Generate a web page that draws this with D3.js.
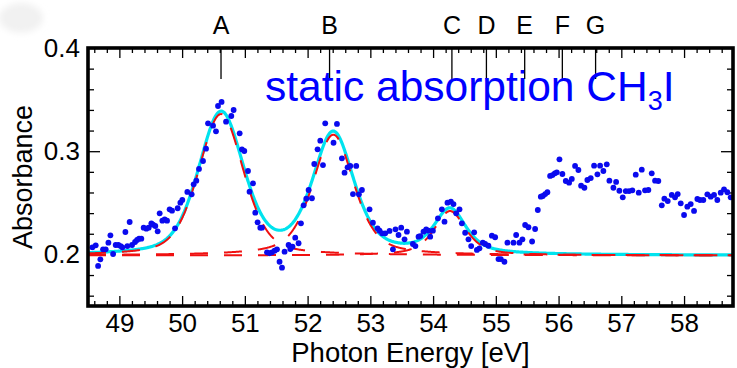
<!DOCTYPE html>
<html><head><meta charset="utf-8">
<script src="https://cdn.jsdelivr.net/npm/d3@7"></script>
<style>
html,body{margin:0;padding:0;background:#fff;}
svg{display:block;font-family:"Liberation Sans",Arial,Helvetica,sans-serif;}
</style></head><body>
<svg id="chart" width="737" height="368"></svg>
<script>
// Measured static absorption of CH3I (photon energy in eV, absorbance)
const energy = [
  48.570,48.623,48.661,48.697,48.740,48.782,48.825,48.857,48.900,48.941,48.984,49.021,49.048,49.096,49.127,49.164,
  49.202,49.250,49.282,49.314,49.350,49.387,49.430,49.467,49.510,49.537,49.573,49.610,49.642,49.685,49.722,49.760,
  49.801,49.839,49.887,49.929,49.972,50.003,50.083,50.152,50.184,50.227,50.269,50.333,50.381,50.413,50.493,50.540,
  50.572,50.629,50.700,50.784,50.821,50.917,50.954,50.991,51.050,51.075,51.130,51.166,51.203,51.246,51.273,51.353,
  51.394,51.432,51.474,51.512,51.553,51.592,51.633,51.697,51.724,51.760,51.803,51.856,51.894,51.936,51.979,52.016,
  52.069,52.106,52.159,52.202,52.245,52.281,52.413,52.468,52.547,52.589,52.637,52.680,52.723,52.775,52.818,52.866,
  52.987,53.041,53.115,53.147,53.189,53.237,53.306,53.360,53.401,53.449,53.492,53.545,53.583,53.678,53.718,53.768,
  53.795,53.847,53.890,53.927,53.954,53.997,54.077,54.140,54.182,54.229,54.284,54.325,54.368,54.421,54.459,54.511,
  54.564,54.607,54.655,54.698,54.739,54.793,54.830,54.882,54.937,54.989,55.042,55.080,55.137,55.185,55.281,55.324,
  55.376,55.424,55.467,55.520,55.578,55.626,55.669,55.717,55.749,55.786,55.822,55.865,55.902,55.940,55.972,56.014,
  56.061,56.115,56.168,56.211,56.263,56.316,56.359,56.412,56.459,56.513,56.566,56.619,56.662,56.714,56.768,56.810,
  56.874,56.917,56.969,57.023,57.071,57.124,57.176,57.230,57.278,57.326,57.378,57.431,57.485,57.538,57.590,57.645,
  57.686,57.740,57.804,57.856,57.899,57.947,58.000,58.052,58.106,58.159,58.212,58.254,58.307,58.371,58.425,58.478,
  58.530,58.584,58.637,58.690,58.743
];
const absorbance = [
  0.2069,0.2088,0.1888,0.1952,0.2049,0.2049,0.2114,0.2185,0.2004,0.2091,0.2091,0.2081,0.2069,0.2217,0.2081,0.2314,
  0.2091,0.2120,0.2140,0.2152,0.2152,0.2259,0.2249,0.2259,0.2301,0.2288,0.2275,0.2224,0.2398,0.2327,0.2340,0.2327,
  0.2437,0.2424,0.2253,0.2447,0.2501,0.2527,0.2605,0.2582,0.2679,0.2714,0.2828,0.2905,0.3024,0.3270,0.3247,0.3193,
  0.3438,0.3477,0.3286,0.3341,0.3399,0.3173,0.3018,0.3002,0.2808,0.2608,0.2689,0.2404,0.2311,0.2259,0.2259,0.2020,
  0.2011,0.2020,0.2036,0.2049,0.1929,0.1871,0.2026,0.2091,0.2052,0.2075,0.2162,0.2108,0.2301,0.2476,0.2540,0.2624,
  0.2544,0.2876,0.3018,0.3102,0.2866,0.3270,0.3082,0.3264,0.2931,0.2792,0.2844,0.2857,0.2585,0.2857,0.2582,0.2624,
  0.2437,0.2307,0.2253,0.2230,0.2204,0.2204,0.2227,0.2049,0.2243,0.2188,0.2259,0.2146,0.2220,0.2101,0.2081,0.2172,
  0.2178,0.2220,0.2243,0.2230,0.2172,0.2230,0.2350,0.2437,0.2317,0.2501,0.2511,0.2488,0.2398,0.2437,0.2301,0.2210,
  0.2146,0.2081,0.2214,0.2043,0.2059,0.2114,0.2101,0.2084,0.2181,0.2166,0.1955,0.1955,0.1929,0.2114,0.2114,0.2188,
  0.2114,0.2146,0.2285,0.2263,0.2125,0.2246,0.2430,0.2559,0.2566,0.2585,0.2602,0.2760,0.2769,0.2786,0.2795,0.2921,
  0.2779,0.2711,0.2695,0.2731,0.2857,0.2818,0.2666,0.2646,0.2721,0.2740,0.2860,0.2776,0.2860,0.2808,0.2873,0.2714,
  0.2646,0.2702,0.2617,0.2553,0.2614,0.2614,0.2621,0.2773,0.2598,0.2821,0.2621,0.2624,0.2786,0.2714,0.2711,0.2476,
  0.2540,0.2517,0.2576,0.2553,0.2585,0.2495,0.2382,0.2462,0.2488,0.2421,0.2537,0.2527,0.2527,0.2582,0.2559,0.2576,
  0.2527,0.2598,0.2631,0.2602,0.2553
];

// Axis ticks
const xTickValues = [49, 50, 51, 52, 53, 54, 55, 56, 57, 58];
const yTickValues = [0.2, 0.3, 0.4];

// Transition markers along the top
const transitionLabels = ["A", "B", "C", "D", "E", "F", "G"];
const transitionEnergies = [50.62, 52.35, 54.30, 54.85, 55.46, 56.06, 56.59];

// Peak fit: constant background plus pseudo-Voigt lines
const fitBaseline = 0.199;
const peakCenters = [50.62, 52.41, 54.27];
const peakHeights = [0.137, 0.117, 0.043];
const peakWidths = [0.85, 0.78, 0.60];          // FWHM in eV
const peakLorentzFraction = [0.38, 0.50, 0.65];

const plot = {left: 88, right: 733, top: 48, bottom: 306};

const svg = d3.select("#chart");

const x = d3.scaleLinear().domain([48.5, 58.78]).range([plot.left, plot.right]);
const y = d3.scaleLinear().domain([0.15, 0.4]).range([plot.bottom, plot.top]);

// faint smudge in the upper-left corner
const defs = svg.append("defs");
defs.append("filter").attr("id", "soft").attr("x", "-50%").attr("y", "-50%").attr("width", "200%").attr("height", "200%")
  .append("feGaussianBlur").attr("stdDeviation", 3);
svg.append("ellipse").attr("cx", 21).attr("cy", 18).attr("rx", 22).attr("ry", 15)
  .attr("fill", "#f1f1f1").attr("filter", "url(#soft)");

defs.append("clipPath").attr("id", "plotClip").append("rect")
  .attr("x", plot.left).attr("y", plot.top)
  .attr("width", plot.right - plot.left).attr("height", plot.bottom - plot.top);

// ---- axes (ticks point inward) ----
const xMinor = d3.range(48.6, 58.79, 0.2).filter(v => Math.abs(v - Math.round(v)) > 0.05);
const yMinor = d3.range(0.16, 0.401, 0.02).filter(v => Math.abs(v * 10 - Math.round(v * 10)) > 0.05);

function styleAxis(g) {
  g.select(".domain").remove();
  g.selectAll(".tick line").attr("stroke", "#000").attr("stroke-width", 1.3);
  g.selectAll(".tick text").attr("fill", "#000").attr("font-size", 26)
    .attr("font-family", '"Liberation Sans",Arial,sans-serif');
}

// bottom
svg.append("g").attr("transform", `translate(0,${plot.bottom})`)
  .call(d3.axisBottom(x).tickValues(xMinor).tickSizeInner(-5).tickSizeOuter(0).tickFormat(""))
  .call(styleAxis);
svg.append("g").attr("transform", `translate(0,${plot.bottom})`)
  .call(d3.axisBottom(x).tickValues(xTickValues).tickSizeInner(-10).tickSizeOuter(0).tickPadding(8).tickFormat(d3.format("d")))
  .call(styleAxis);
// top
svg.append("g").attr("transform", `translate(0,${plot.top})`)
  .call(d3.axisTop(x).tickValues(xMinor).tickSizeInner(-5).tickSizeOuter(0).tickFormat(""))
  .call(styleAxis);
svg.append("g").attr("transform", `translate(0,${plot.top})`)
  .call(d3.axisTop(x).tickValues(xTickValues).tickSizeInner(-10).tickSizeOuter(0).tickFormat(""))
  .call(styleAxis);
// left
svg.append("g").attr("transform", `translate(${plot.left},0)`)
  .call(d3.axisLeft(y).tickValues(yMinor).tickSizeInner(-6).tickSizeOuter(0).tickFormat(""))
  .call(styleAxis);
svg.append("g").attr("transform", `translate(${plot.left},0)`)
  .call(d3.axisLeft(y).tickValues(yTickValues).tickSizeInner(-12).tickSizeOuter(0).tickPadding(8).tickFormat(d3.format(".1f")))
  .call(styleAxis);
// right
svg.append("g").attr("transform", `translate(${plot.right},0)`)
  .call(d3.axisRight(y).tickValues(yMinor).tickSizeInner(-6).tickSizeOuter(0).tickFormat(""))
  .call(styleAxis);
svg.append("g").attr("transform", `translate(${plot.right},0)`)
  .call(d3.axisRight(y).tickValues(yTickValues).tickSizeInner(-12).tickSizeOuter(0).tickFormat(""))
  .call(styleAxis);

// ---- fit curves ----
function pseudoVoigt(e, i) {
  const d = e - peakCenters[i];
  const gamma = peakWidths[i] / 2;
  const sigma = peakWidths[i] / 2.3548;
  const L = 1 / (1 + (d / gamma) * (d / gamma));
  const G = Math.exp(-(d * d) / (2 * sigma * sigma));
  const eta = peakLorentzFraction[i];
  return peakHeights[i] * (eta * L + (1 - eta) * G);
}
const grid = d3.range(48.5, 58.785, 0.01);
const line = d3.line().x(d => x(d[0])).y(d => y(d[1]));

const curves = svg.append("g").attr("clip-path", "url(#plotClip)");

// total fit (cyan)
curves.append("path")
  .attr("d", line(grid.map(e => [e, fitBaseline + peakCenters.reduce((s, _, i) => s + pseudoVoigt(e, i), 0)])))
  .attr("fill", "none").attr("stroke", "#00e3ee").attr("stroke-width", 3.2);

// individual components on the background (red dashed)
peakCenters.forEach((_, i) => {
  curves.append("path")
    .attr("d", line(grid.map(e => [e, fitBaseline + pseudoVoigt(e, i)])))
    .attr("fill", "none").attr("stroke", "#f01010").attr("stroke-width", 2)
    .attr("stroke-dasharray", "18,16");
});

// data points
curves.append("g").selectAll("circle")
  .data(energy.map((e, i) => [e, absorbance[i]]))
  .join("circle")
  .attr("cx", d => x(d[0])).attr("cy", d => y(d[1])).attr("r", 2.9)
  .attr("fill", "#0a0aee");

// frame
svg.append("rect")
  .attr("x", plot.left).attr("y", plot.top)
  .attr("width", plot.right - plot.left).attr("height", plot.bottom - plot.top)
  .attr("fill", "none").attr("stroke", "#000").attr("stroke-width", 3.6);

// transition markers
const marks = svg.append("g");
marks.selectAll("line").data(transitionEnergies).join("line")
  .attr("x1", d => x(d)).attr("x2", d => x(d))
  .attr("y1", plot.top).attr("y2", plot.top + 31)
  .attr("stroke", "#000").attr("stroke-width", 1.3);
marks.selectAll("text").data(transitionLabels).join("text")
  .attr("x", (d, i) => x(transitionEnergies[i])).attr("y", 34)
  .attr("text-anchor", "middle").attr("font-size", 25).attr("fill", "#000")
  .text(d => d);

// title inside the plot
const title = svg.append("text").attr("x", 265).attr("y", 101)
  .attr("font-size", 42.5).attr("fill", "#0000ff");
title.append("tspan").text("static absorption CH");
title.append("tspan").attr("font-size", 27).attr("dy", 9).text("3");
title.append("tspan").attr("dy", -9).text("I");

// axis titles
svg.append("text").attr("x", (plot.left + plot.right) / 2).attr("y", 362)
  .attr("text-anchor", "middle").attr("font-size", 27.5).attr("fill", "#000")
  .text("Photon Energy [eV]");
svg.append("text").attr("transform", `translate(32,${(plot.top + plot.bottom) / 2}) rotate(-90)`)
  .attr("text-anchor", "middle").attr("font-size", 27).attr("fill", "#000")
  .text("Absorbance");
</script>
</body></html>
